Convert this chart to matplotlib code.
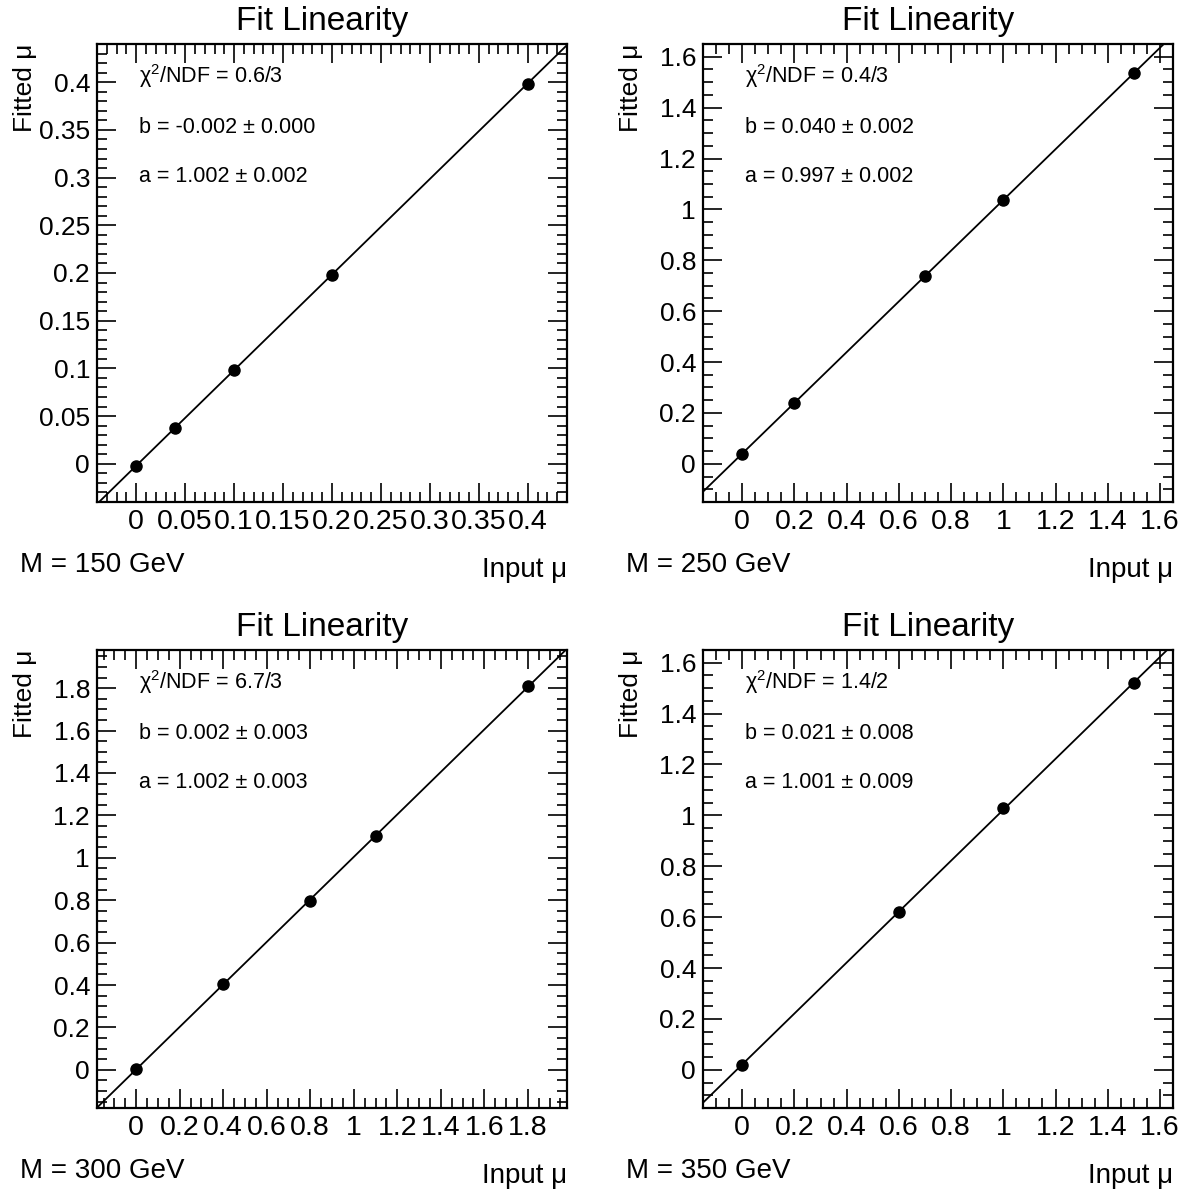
import numpy as np
import matplotlib
matplotlib.use("Agg")
import matplotlib.pyplot as plt
from matplotlib.ticker import MultipleLocator, FuncFormatter

plt.rcParams['font.family'] = ['Liberation Sans', 'DejaVu Sans']
plt.rcParams['mathtext.fontset'] = 'custom'
plt.rcParams['mathtext.rm'] = 'Liberation Sans'

# input / fitted mu for each mass point
masses = [150, 250, 300, 350]
input_mu = [
    [0.0, 0.04, 0.1, 0.2, 0.4],
    [0.0, 0.2, 0.7, 1.0, 1.5],
    [0.0, 0.4, 0.8, 1.1, 1.8],
    [0.0, 0.6, 1.0, 1.5],
]
fitted_mu = [
    [-0.002, 0.038, 0.098, 0.198, 0.398],
    [0.040, 0.240, 0.738, 1.037, 1.536],
    [0.004, 0.405, 0.797, 1.103, 1.808],
    [0.020, 0.620, 1.031, 1.522],
]
chi2_ndf = ["0.6/3", "0.4/3", "6.7/3", "1.4/2"]
offset_b = [(-0.002, 0.000), (0.040, 0.002), (0.002, 0.003), (0.021, 0.008)]
slope_a = [(1.002, 0.002), (0.997, 0.002), (1.002, 0.003), (1.001, 0.009)]
major_step = [0.05, 0.2, 0.2, 0.2]
minor_step = [0.01, 0.05, 0.05, 0.05]

W, H = 1192, 1193
fig = plt.figure(figsize=(W / 100, H / 100), dpi=100)

# axes boxes in pixels: left, top
boxes = [(97, 44), (703, 44), (97, 650), (703, 650)]
bw, bh = 470, 458


def fmt(v, pos):
    v = round(v, 6)
    if v == 0:
        return "0"
    return f"{v:g}"


for i in range(4):
    l, t = boxes[i]
    ax = fig.add_axes([l / W, 1 - (t + bh) / H, bw / W, bh / H])
    x = np.array(input_mu[i])
    y = np.array(fitted_mu[i])
    top = x.max()
    lo, hi = -0.1 * top, 1.1 * top
    ax.set_xlim(lo, hi)
    ax.set_ylim(lo, hi)

    # fit line drawn over the whole frame
    a, b = slope_a[i][0], offset_b[i][0]
    xf = np.array([lo, hi])
    ax.plot(xf, a * xf + b, color='black', lw=1.3)
    ax.plot(x, y, 'o', color='black', markersize=8, zorder=5)

    for axis in (ax.xaxis, ax.yaxis):
        axis.set_major_locator(MultipleLocator(major_step[i]))
        axis.set_minor_locator(MultipleLocator(minor_step[i]))
        axis.set_major_formatter(FuncFormatter(fmt))
    ax.tick_params(which='both', direction='in', top=True, right=True,
                   width=1.2)
    ax.tick_params(axis='y', labelsize=19)
    ax.tick_params(axis='x', labelsize=20.5)
    ax.tick_params(which='major', length=14, pad=5)
    ax.tick_params(which='minor', length=7)
    for s in ax.spines.values():
        s.set_linewidth(1.6)

    ax.text(0.479, 1.031, "Fit Linearity", transform=ax.transAxes,
            ha='center', va='baseline', fontsize=24)
    ax.text(-0.153, 1.0, "Fitted μ", transform=ax.transAxes, rotation=90,
            ha='center', va='top', fontsize=19)
    ax.text(1.0, -0.164, "Input μ", transform=ax.transAxes,
            ha='right', va='baseline', fontsize=20)
    ax.text(-0.164, -0.153, f"M = {masses[i]} GeV", transform=ax.transAxes,
            ha='left', va='baseline', fontsize=20)

    fs = 15.5
    ax.text(0.09, 0.915, "χ$^{\\mathrm{2}}$" + f"/NDF = {chi2_ndf[i]}",
            transform=ax.transAxes, ha='left', va='baseline', fontsize=fs)
    ax.text(0.09, 0.806, f"b = {offset_b[i][0]:.3f} ± {offset_b[i][1]:.3f}",
            transform=ax.transAxes, ha='left', va='baseline', fontsize=fs)
    ax.text(0.09, 0.699, f"a = {slope_a[i][0]:.3f} ± {slope_a[i][1]:.3f}",
            transform=ax.transAxes, ha='left', va='baseline', fontsize=fs)

fig.savefig("out.png", dpi=100)
